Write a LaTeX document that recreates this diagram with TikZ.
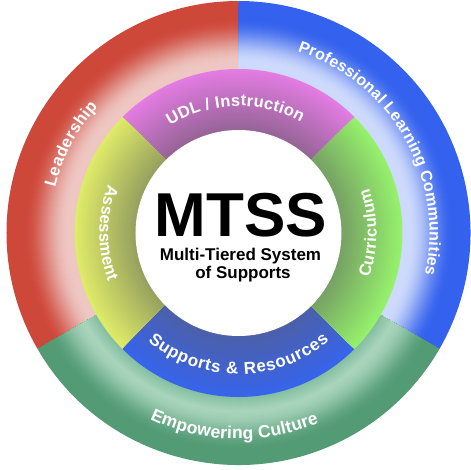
\documentclass[tikz,border=0pt]{standalone}
\usepackage{fontspec}
\setmainfont{Liberation Sans}
\usetikzlibrary{decorations.text}
% outer ring colours
\definecolor{redout}{RGB}{206,72,58}
\definecolor{redlt}{RGB}{238,198,194}
\definecolor{blueout}{RGB}{52,98,238}
\definecolor{bluelt}{RGB}{206,218,252}
\definecolor{greenout}{RGB}{82,155,117}
\definecolor{greenlt}{RGB}{168,212,188}
\definecolor{greenin}{RGB}{130,190,160}
% middle ring colours
\definecolor{magout}{RGB}{228,124,228}
\definecolor{magin}{RGB}{150,100,150}
\definecolor{yelout}{RGB}{224,236,104}
\definecolor{yelin}{RGB}{150,160,95}
\definecolor{grnout}{RGB}{150,242,108}
\definecolor{grnin}{RGB}{118,160,100}
\definecolor{bluout}{RGB}{55,100,236}
\definecolor{bluin}{RGB}{76,96,168}
\newcommand{\ringtxt}[1]{\fontsize{#1}{#1}\selectfont\bfseries}
% wedge of radius #3 from angle #1 to #2
\newcommand{\wedgefill}[4]{\fill[#4] (0,0) -- (#1:#3) arc[start angle=#1, end angle=#2, radius=#3] -- cycle;}
% outer sector with glow towards inside: #1,#2 angles, #3 outer colour, #4 light colour
\newcommand{\outersector}[4]{%
  \foreach \r in {232,231,...,164}{%
    \pgfmathsetmacro\s{max(0,min(1,(\r-171)/44))}%
    \pgfmathsetmacro\p{100*(3*\s*\s-2*\s*\s*\s)}%
    \wedgefill{#1}{#2}{\r}{#3!\p!#4}%
  }}
% middle sector, linear: #3 outer colour, #4 inner colour
\newcommand{\middlesector}[4]{%
  \foreach \r in {164,163,...,103}{%
    \pgfmathsetmacro\p{100*(\r-103)/61}%
    \wedgefill{#1}{#2}{\r}{#3!\p!#4}%
  }}
\tikzset{
  arclabel/.style n args={2}{decorate, decoration={text along path,
     text={|\ringtxt{#1}|#2}, text color=white, text align=fit to path}},
  centretext/.style={anchor=base, inner sep=0pt},
}
\begin{document}
\begin{tikzpicture}[x=1pt,y=1pt]
\useasboundingbox (-238.5,-236) rectangle (232.5,233);
\fill[white] (-238.5,-236) rectangle (232.5,233);
\coordinate (c) at (0,0);
% outer ring sectors
\outersector{90}{210}{redout}{redlt}
\outersector{330}{450}{blueout}{bluelt}
\foreach \r in {232,231,...,179}{%
  \pgfmathsetmacro\s{max(0,min(1,(\r-178)/40))}%
  \pgfmathsetmacro\p{100*(3*\s*\s-2*\s*\s*\s)}%
  \wedgefill{210}{330}{\r}{greenout!\p!greenlt}}
\foreach \r in {178,177,...,164}{%
  \pgfmathsetmacro\p{100*(\r-164)/14}%
  \wedgefill{210}{330}{\r}{greenlt!\p!greenin}}
% middle ring sectors
\middlesector{45}{135}{magout}{magin}
\middlesector{135}{225}{yelout}{yelin}
\middlesector{225}{315}{bluout}{bluin}
\middlesector{315}{405}{grnout}{grnin}
% white centre
\fill[white] (c) circle[radius=103];
% outer ring labels
\path[arclabel={16.5}{Leadership}] (166:189) arc[start angle=166, end angle=138, radius=189];
\path[arclabel={16}{Professional Learning Communities}] (72:191) arc[start angle=72, end angle=-12.5, radius=191];
\path[arclabel={17.5}{Empowering Culture}] (244.5:206) arc[start angle=244.5, end angle=293, radius=206];
% middle ring labels
\path[arclabel={16.5}{UDL / Instruction}] (122.5:127) arc[start angle=122.5, end angle=60.5, radius=127];
\path[arclabel={16.5}{Assessment}] (159.5:139) arc[start angle=159.5, end angle=200.5, radius=139];
\path[arclabel={16.5}{Curriculum}] (-19:138) arc[start angle=-19, end angle=19, radius=138];
\path[arclabel={17}{Supports {\&} Resources}] (230:141) arc[start angle=230, end angle=310, radius=141];
% centre texts
\node[centretext, font=\fontsize{62}{62}\selectfont\bfseries] (mtss) at (2.5,-3) {MTSS};
\node[centretext, font=\fontsize{17}{17}\selectfont\bfseries] (line1) at (2,-27) {Multi-Tiered System};
\node[centretext, font=\fontsize{17}{17}\selectfont\bfseries] (line2) at (4.5,-45) {of Supports};
\end{tikzpicture}
\end{document}
